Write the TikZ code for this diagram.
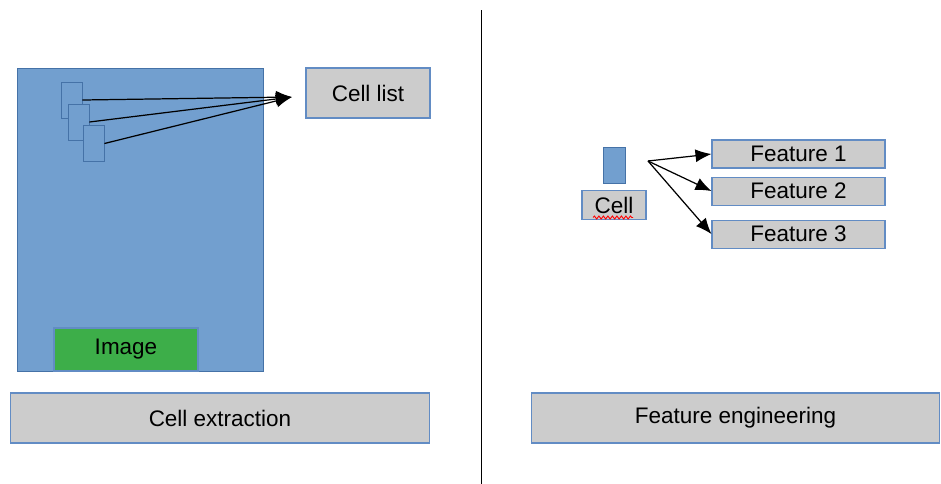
\documentclass[tikz,border=0pt]{standalone}
\usepackage{fontspec}
\setmainfont{Liberation Sans}
\usetikzlibrary{positioning}
\usetikzlibrary{arrows.meta}
\usetikzlibrary{decorations.pathmorphing}
\definecolor{figAzul}{RGB}{114,159,207}
\definecolor{figAzulBorde}{RGB}{69,114,167}
\definecolor{figVerde}{RGB}{61,174,73}
\definecolor{figGris}{RGB}{204,204,204}
\definecolor{figGrisBorde}{RGB}{98,140,196}
\tikzset{
  caja/.style={
    rectangle, draw=figGrisBorde, line width=0.6pt,
    fill=figGris, minimum height=1.0cm,
    align=center, font=\fontsize{12.8}{15}\selectfont, inner sep=2pt
  },
  cajaf/.style={caja, minimum width=3.46cm, minimum height=0.56cm},
  celda/.style={
    rectangle, draw=figAzulBorde, line width=0.5pt,
    fill=figAzul, minimum width=0.42cm, minimum height=0.72cm, inner sep=0pt
  },
  flecha/.style={-{Latex[length=0.32cm,width=0.26cm]}, line width=0.7pt, draw=black},
  ondulado/.style={draw=red, line width=0.5pt,
    decorate, decoration={snake, segment length=0.09cm, amplitude=0.03cm}}
}

\begin{document}
\begin{tikzpicture}[x=0.02cm, y=-0.02cm]
  \useasboundingbox (0,0) rectangle (941,484);

  % extraccion de celdas
  \node[celda, minimum width=4.92cm, minimum height=6.06cm] (imagen) at (140,219.5) {};
  \node[caja, fill=figVerde, minimum width=2.88cm, minimum height=0.86cm] (etiqimagen) at (126,349.5) {Image};
  \node[celda] (celda1) at (71.5,100) {};
  \node[celda] (celda2) at (78.5,122) {};
  \node[celda] (celda3) at (93.5,143.5) {};
  \node[caja, minimum width=2.48cm] (lista) at (368,93) {Cell list};
  \coordinate (punta) at (292,97);
  \node[caja, minimum width=8.4cm] (extraccion) at (220,418) {Cell extraction};

  \draw[flecha] (celda1.east) -- (punta);
  \draw[flecha] (celda2.east) -- (punta);
  \draw[flecha] (celda3.east) -- (punta);

  % separador
  \coordinate (sepa) at (481,10);
  \coordinate (sepb) at (481,484);
  \draw[line width=0.5pt] (sepa) -- (sepb);

  % ingenieria de caracteristicas
  \node[celda, minimum width=0.44cm] (celda) at (614,165) {};
  \node[caja, minimum width=1.28cm, minimum height=0.58cm, below=0.14cm of celda] (etiqcelda) {Cell};
  \draw[ondulado] ([xshift=-0.42cm, yshift=0.06cm]etiqcelda.south) -- ([xshift=0.38cm, yshift=0.06cm]etiqcelda.south);
  \coordinate (bifurca) at (648,161);
  \node[cajaf] (f1) at (798.5,154) {Feature 1};
  \node[cajaf, below=0.16cm of f1] (f2) {Feature 2};
  \node[cajaf, below=0.28cm of f2] (f3) {Feature 3};
  \node[caja, minimum width=8.18cm] (ingenieria) at (735.5,418) {Feature engineering};

  \draw[flecha] (bifurca) -- (f1.west);
  \draw[flecha] (bifurca) -- (f2.west);
  \draw[flecha] (bifurca) -- (f3.west);
\end{tikzpicture}
\end{document}
